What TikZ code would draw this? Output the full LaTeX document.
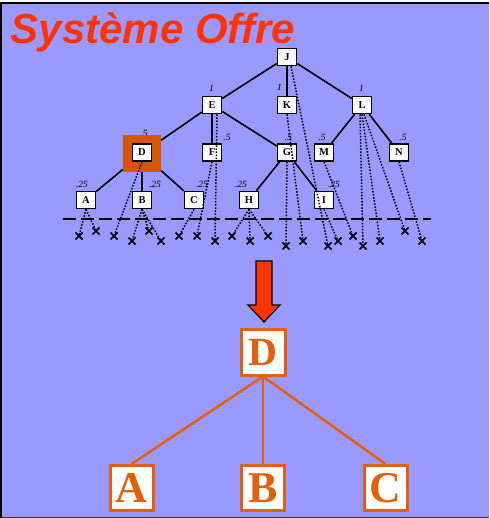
\documentclass[tikz,border=0pt]{standalone}
\usepackage{fontspec}
\setmainfont{Liberation Serif}
\newfontfamily\titlefont{Liberation Sans}
\usetikzlibrary{shapes.misc}
\definecolor{lav}{RGB}{153,153,255}
\definecolor{titlered}{RGB}{255,51,0}
\definecolor{orng}{RGB}{226,96,10}
\definecolor{hlorng}{RGB}{214,86,0}
\begin{document}
\begin{tikzpicture}[x=1pt,y=-1pt,
  tb/.style={draw, line width=1.6pt, fill=white, minimum width=19pt, minimum height=17pt, inner sep=0pt, font=\fontsize{10.5}{10.5}\selectfont\bfseries},
  lbl/.style={inner sep=0pt, font=\fontsize{9.5}{9.5}\selectfont\itshape},
  xm/.style={cross out, draw, line width=1.5pt, minimum size=5.5pt, inner sep=0pt},
  dotl/.style={line width=1.5pt, dash pattern=on 1.5pt off 1.6pt},
  edge/.style={line width=1.6pt},
  bigbox/.style={draw=orng, line width=3pt, fill=white, text=orng, minimum width=43pt, minimum height=45pt, inner sep=0pt, font=\fontsize{44}{44}\selectfont\bfseries},
  oedge/.style={draw=orng, line width=2.5pt}
]
\useasboundingbox (0,0) rectangle (489,518);
\fill[white] (0,0) rectangle (489,518);
\fill[lav] (0,3) rectangle (489,518);
\draw[line width=2pt] (0,3.5) -- (489,3.5);
\draw[line width=1.5pt] (0.75,3) -- (0.75,518);
\draw[line width=1.5pt, color=black!70!lav] (0,517.25) -- (489,517.25);

% title
\node[anchor=base west, text=titlered, inner sep=0pt, font=\titlefont\fontsize{42}{42}\selectfont\bfseries\itshape] (title) at (10.5,44) {Système Offre};

% dashed horizon
\coordinate (dl) at (63,219);
\coordinate (dr) at (431,219);
\draw[line width=1.6pt, dash pattern=on 13pt off 5pt] (dl) -- (dr);

% labels
\node[lbl] (lE) at (211.5,88) {1};
\node[lbl] (lK) at (279.5,87) {1};
\node[lbl] (lL) at (361.5,88) {1};
\node[lbl] (lD) at (144,133.5) {.5};
\node[lbl] (lF) at (227,137) {.5};
\node[lbl] (lG) at (288.5,137) {.5};
\node[lbl] (lM) at (322,137) {.5};
\node[lbl] (lN) at (403,137) {.5};
\node[lbl] (lA) at (82,184) {.25};
\node[lbl] (lB) at (155,184) {.25};
\node[lbl] (lC) at (202,184) {.25};
\node[lbl] (lH) at (241,184) {.25};
\node[lbl] (lI) at (334,184) {.25};

% highlight frame for D
\node[fill=hlorng, minimum width=38pt, minimum height=37pt, inner sep=0pt] (Dhl) at (142,153.5) {};

% tree nodes
\node[tb] (J) at (287,57) {J};
\node[tb] (E) at (212,105) {E};
\node[tb] (K) at (287,105) {K};
\node[tb] (L) at (362,105) {L};
\node[tb] (D) at (142,152.5) {D};
\node[tb] (F) at (212,152.5) {F};
\node[tb] (G) at (287,152.5) {G};
\node[tb] (M) at (324,152.5) {M};
\node[tb] (N) at (399,152.5) {N};
\node[tb] (A) at (86,200) {A};
\node[tb] (B) at (142,200) {B};
\node[tb] (C) at (194,200) {C};
\node[tb] (H) at (249,200) {H};
\node[tb] (I) at (324,200) {I};

% solid edges
\draw[edge] (J) -- (E);
\draw[edge] (J) -- (K);
\draw[edge] (J) -- (L);
\draw[edge] (E) -- (Dhl);
\draw[edge] (E) -- (F);
\draw[edge] (E) -- (G);
\draw[edge] (L) -- (M);
\draw[edge] (L) -- (N);
\draw[edge] (Dhl) -- (A);
\draw[edge] (Dhl) -- (B);
\draw[edge] (Dhl) -- (C);
\draw[edge] (G) -- (H);
\draw[edge] (G) -- (I);

% crosses
\node[xm] (c1) at (79,236) {};
\node[xm] (c2) at (96,231) {};
\node[xm] (c3) at (114,236) {};
\node[xm] (c4) at (132,241) {};
\node[xm] (c5) at (149,231) {};
\node[xm] (c6) at (161,241) {};
\node[xm] (c7) at (179,236) {};
\node[xm] (c8) at (197,236) {};
\node[xm] (c9) at (215,241) {};
\node[xm] (c10) at (232,236) {};
\node[xm] (c11) at (250,241) {};
\node[xm] (c12) at (268,236) {};
\node[xm] (c13) at (286,246) {};
\node[xm] (c14) at (303,241) {};
\node[xm] (c15) at (328,246) {};
\node[xm] (c16) at (338,241) {};
\node[xm] (c17) at (353,236) {};
\node[xm] (c18) at (363,246) {};
\node[xm] (c19) at (380,241) {};
\node[xm] (c20) at (405,231) {};
\node[xm] (c21) at (422,241) {};

% dotted lines
\draw[dotl] (A.south) -- (c1.center);
\draw[dotl] (A.south) -- (c2.center);
\draw[dotl] (D.south) -- (c3.center);
\draw[dotl] (B.south) -- (c4.center);
\draw[dotl] (B.south) -- (c5.center);
\draw[dotl] (B.south) -- (c6.center);
\draw[dotl] (C.south) -- (c7.center);
\draw[dotl] (F.south) -- (c8.center);
\draw[dotl] ([xshift=5pt]E.south) -- (c9.center);
\draw[dotl] (H.south) -- (c10.center);
\draw[dotl] (H.south) -- (c11.center);
\draw[dotl] (H.south) -- (c12.center);
\draw[dotl] (G.south) -- (c13.center);
\draw[dotl] (K.south) -- (c14.center);
\draw[dotl] ([xshift=4pt]J.south) -- (c15.center);
\draw[dotl] (I.south) -- (c16.center);
\draw[dotl] (M.south) -- (c17.center);
\draw[dotl] ([xshift=-2pt]L.south) -- (c18.center);
\draw[dotl] (L.south) -- (c19.center);
\draw[dotl] ([xshift=2pt]L.south) -- (c20.center);
\draw[dotl] (N.south) -- (c21.center);

% red arrow
\draw[fill=titlered, line width=1.2pt, line join=miter] (256,261) -- (272,261) -- (272,305) -- (280,305) -- (264,322) -- (248,305) -- (256,305) -- cycle;

% result tree
\node[bigbox, minimum width=44pt, minimum height=46pt, font=\fontsize{40}{40}\selectfont\bfseries] (RD) at (263,352) {D};
\node[bigbox] (RA) at (131.5,488) {A};
\node[bigbox] (RB) at (263,488) {B};
\node[bigbox] (RC) at (385.5,488) {C};
\draw[oedge] (RD.south) -- (RA.north);
\draw[oedge] (RD.south) -- (RB.north);
\draw[oedge] (RD.south) -- (RC.north);
\end{tikzpicture}
\end{document}
